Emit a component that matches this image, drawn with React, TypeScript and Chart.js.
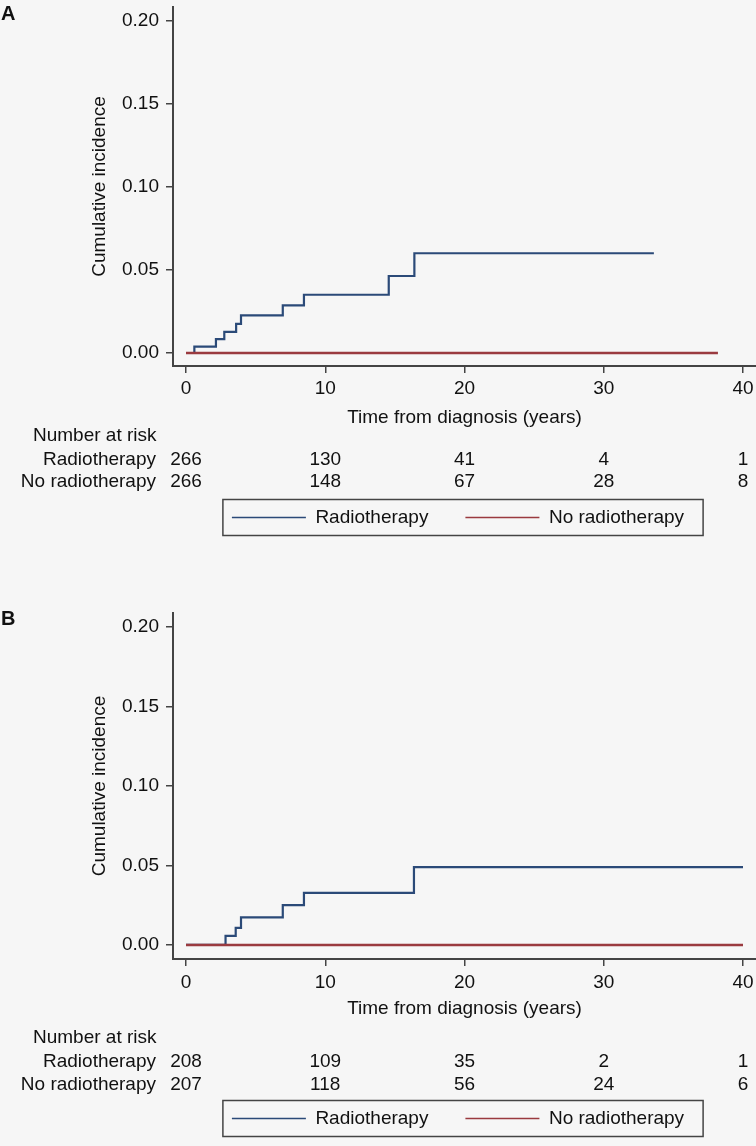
import React, { useEffect, useRef } from 'react';
import { Chart, registerables } from 'chart.js';

Chart.register(...registerables);
Chart.defaults.font.family = "'Liberation Sans', Arial, Helvetica, sans-serif";
Chart.defaults.font.size = 19;
Chart.defaults.color = '#111111';

// ---------- data ----------
const xTicks = [0, 10, 20, 30, 40];
const yTicks = [0, 0.05, 0.1, 0.15, 0.2];
const seriesLabels = ['Radiotherapy', 'No radiotherapy'];
const riskTitle = 'Number at risk';
const xTitle = 'Time from diagnosis (years)';
const yTitle = 'Cumulative incidence';

// Panel A
const radioTimesA = [0, 0.6, 2.15, 2.75, 3.6, 3.95, 6.95, 8.47, 14.56, 16.4, 33.6];
const radioCifA = [0, 0.0038, 0.0083, 0.0127, 0.0175, 0.0227, 0.0287, 0.0351, 0.0464, 0.0601, 0.0601];
const noRadioTimesA = [0, 38.2];
const noRadioCifA = [0, 0];
const atRiskRadioA = [266, 130, 41, 4, 1];
const atRiskNoRadioA = [266, 148, 67, 28, 8];

// Panel B
const radioTimesB = [0, 2.84, 3.57, 3.95, 6.95, 8.47, 16.37, 40];
const radioCifB = [0, 0.0057, 0.0108, 0.0173, 0.025, 0.0328, 0.049, 0.049];
const noRadioTimesB = [0, 40];
const noRadioCifB = [0, 0];
const atRiskRadioB = [208, 109, 35, 2, 1];
const atRiskNoRadioB = [207, 118, 56, 24, 6];

const BLUE = '#2b4a78';
const RED = '#9a3a3f';
const AXIS = '#444444';
const BG = '#f6f6f6';
const FONT = "'Liberation Sans', Arial, Helvetica, sans-serif";

type PanelProps = {
  letter: string;
  top: number;
  height: number;
  radioT: number[];
  radioV: number[];
  noT: number[];
  noV: number[];
  riskRadio: number[];
  riskNo: number[];
  yMin: number;
  yMax: number;
  xScaleHeight: number;
  titlePadBottom: number;
  tickPad: number;
  riskOffsets: number[];
  letterY: number;
};

function Panel(p: PanelProps) {
  const ref = useRef<HTMLCanvasElement | null>(null);
  useEffect(() => {
    if (!ref.current) return;
    const toPts = (t: number[], v: number[]) => t.map((x, i) => ({ x, y: v[i] }));
    const extras = {
      id: 'extras',
      afterLayout(chart: any) {
        const lg = chart.legend;
        if (lg) {
          lg.left += 80;
          lg.right += 80;
        }
      },
      afterDraw(chart: any) {
        const ctx = chart.ctx as CanvasRenderingContext2D;
        ctx.save();
        // legend frame
        const hb = chart.legend?.legendHitBoxes;
        if (hb && hb.length) {
          const first = hb[0];
          const last = hb[hb.length - 1];
          const l = first.left - 9;
          const r = last.left + last.width + 19;
          const cy = first.top + first.height / 2;
          ctx.strokeStyle = AXIS;
          ctx.lineWidth = 1.5;
          ctx.strokeRect(l, cy - 18, r - l, 36);
        }
        // number at risk table
        const b = chart.chartArea.bottom;
        ctx.fillStyle = '#111111';
        ctx.font = `19px ${FONT}`;
        ctx.textBaseline = 'middle';
        ctx.textAlign = 'left';
        ctx.fillText(riskTitle, 33, b + p.riskOffsets[0]);
        ctx.textAlign = 'right';
        ctx.fillText(seriesLabels[0], 156, b + p.riskOffsets[1]);
        ctx.fillText(seriesLabels[1], 156, b + p.riskOffsets[2]);
        ctx.textAlign = 'center';
        const xs = chart.scales.x;
        xTicks.forEach((t, i) => {
          const px = xs.getPixelForValue(t);
          ctx.fillText(String(p.riskRadio[i]), px, b + p.riskOffsets[1]);
          ctx.fillText(String(p.riskNo[i]), px, b + p.riskOffsets[2]);
        });
        // panel letter
        ctx.font = `bold 20px ${FONT}`;
        ctx.textAlign = 'left';
        ctx.fillText(p.letter, 1, p.letterY);
        ctx.restore();
      },
    };
    const chart = new Chart(ref.current, {
      type: 'line',
      data: {
        datasets: [
          {
            label: seriesLabels[0],
            data: toPts(p.radioT, p.radioV),
            borderColor: BLUE,
            backgroundColor: BLUE,
            borderWidth: 2.2,
            pointRadius: 0,
            stepped: 'before',
            fill: false,
            order: 2,
          },
          {
            label: seriesLabels[1],
            data: toPts(p.noT, p.noV),
            borderColor: RED,
            backgroundColor: RED,
            borderWidth: 2.4,
            pointRadius: 0,
            fill: false,
            order: 1,
          },
        ],
      },
      options: {
        animation: false,
        responsive: false,
        maintainAspectRatio: false,
        layout: { padding: { top: 7, left: 0, right: 0, bottom: 0 } },
        plugins: {
          tooltip: { enabled: false },
          legend: {
            display: true,
            position: 'bottom',
            labels: {
              usePointStyle: true,
              pointStyle: 'line',
              pointStyleWidth: 74,
              padding: 37,
              color: '#111111',
              font: { size: 19 },
              sort: (a: any, b: any) => a.datasetIndex - b.datasetIndex,
              generateLabels: (chart: any) =>
                (Chart.defaults.plugins.legend.labels as any)
                  .generateLabels(chart)
                  .map((it: any) => ({ ...it, lineWidth: 1.6, pointStyle: 'line' })),
            },
          },
        },
        scales: {
          x: {
            type: 'linear',
            min: (173 - 186) / 13.925,
            max: (756 - 186) / 13.925,
            afterBuildTicks: (s: any) => {
              s.ticks = xTicks.map((v) => ({ value: v }));
            },
            afterFit: (s: any) => {
              s.height = p.xScaleHeight;
              s.paddingLeft = 0;
              s.paddingRight = 0;
            },
            ticks: {
              autoSkip: false,
              maxRotation: 0,
              padding: p.tickPad,
              color: '#111111',
              font: { size: 19 },
              callback: (v: any) => String(v),
            },
            grid: { drawOnChartArea: false, drawTicks: true, tickLength: 7, color: AXIS, lineWidth: 1.5 },
            border: { display: true, color: AXIS, width: 2 },
            title: {
              display: true,
              text: xTitle,
              color: '#111111',
              font: { size: 19 },
              padding: { top: 0, bottom: p.titlePadBottom },
            },
          },
          y: {
            type: 'linear',
            min: p.yMin,
            max: p.yMax,
            afterBuildTicks: (s: any) => {
              s.ticks = yTicks.map((v) => ({ value: v }));
            },
            afterFit: (s: any) => {
              s.width = 173;
              s.paddingTop = 0;
              s.paddingBottom = 0;
            },
            ticks: {
              padding: 7,
              color: '#111111',
              font: { size: 19 },
              callback: (v: any) => Number(v).toFixed(2),
            },
            grid: { drawOnChartArea: false, drawTicks: true, tickLength: 7, color: AXIS, lineWidth: 1.5 },
            border: { display: true, color: AXIS, width: 2 },
            title: {
              display: true,
              text: yTitle,
              color: '#111111',
              font: { size: 19 },
              padding: { top: 88.6, bottom: 0 },
            },
          },
        },
      },
      plugins: [extras],
    } as any);
    return () => chart.destroy();
  }, []);
  return (
    <canvas
      ref={ref}
      width={756}
      height={p.height}
      style={{ position: 'absolute', left: 0, top: p.top, width: 756, height: p.height, display: 'block' }}
    />
  );
}

export default function App() {
  return (
    <div
      style={{
        position: 'absolute',
        left: 0,
        top: 0,
        width: 756,
        height: 1146,
        overflow: 'hidden',
        background: BG,
      }}
    >
      <Panel
        letter="A"
        top={0}
        height={537}
        radioT={radioTimesA}
        radioV={radioCifA}
        noT={noRadioTimesA}
        noV={noRadioCifA}
        riskRadio={atRiskRadioA}
        riskNo={atRiskNoRadioA}
        yMin={-13 / 1660}
        yMax={0.2 + 14 / 1660}
        xScaleHeight={105}
        titlePadBottom={41.6}
        tickPad={4.6}
        riskOffsets={[70, 93.5, 116]}
        letterY={14}
      />
      <Panel
        letter="B"
        top={606}
        height={532}
        radioT={radioTimesB}
        radioV={radioCifB}
        noT={noRadioTimesB}
        noV={noRadioCifB}
        riskRadio={atRiskRadioB}
        riskNo={atRiskNoRadioB}
        yMin={-14 / 1585}
        yMax={0.2 + 14 / 1585}
        xScaleHeight={113}
        titlePadBottom={51.6}
        tickPad={5.6}
        riskOffsets={[79, 103, 126]}
        letterY={13}
      />
    </div>
  );
}
